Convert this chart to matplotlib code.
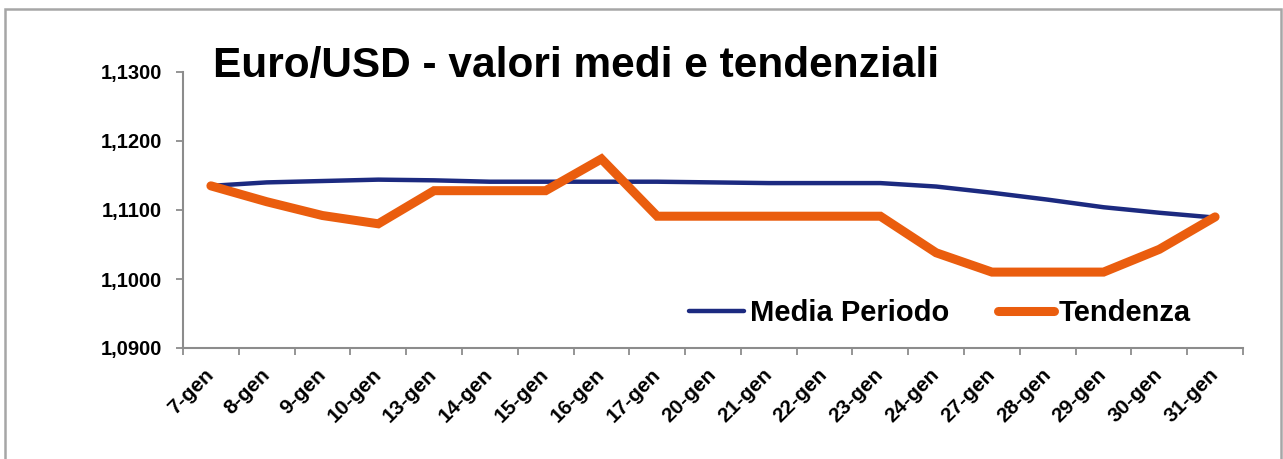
import matplotlib
matplotlib.use("Agg")
import matplotlib.pyplot as plt
from matplotlib.patches import Rectangle
from matplotlib.ticker import FixedLocator, FuncFormatter

plt.rcParams['font.family'] = ['Liberation Sans', 'DejaVu Sans']
plt.rcParams['font.weight'] = 'bold'

# data
dates = ["7-gen", "8-gen", "9-gen", "10-gen", "13-gen", "14-gen", "15-gen",
         "16-gen", "17-gen", "20-gen", "21-gen", "22-gen", "23-gen", "24-gen",
         "27-gen", "28-gen", "29-gen", "30-gen", "31-gen"]
media_periodo = [1.1135, 1.1140, 1.1142, 1.1144, 1.1143, 1.1141, 1.1141,
                 1.1141, 1.1141, 1.1140, 1.1139, 1.1139, 1.1139, 1.1134,
                 1.1125, 1.1115, 1.1104, 1.1096, 1.1089]
tendenza = [1.1135, 1.1112, 1.1092, 1.1080, 1.1128, 1.1128, 1.1128,
            1.1174, 1.1091, 1.1091, 1.1091, 1.1091, 1.1091, 1.1038,
            1.1010, 1.1010, 1.1010, 1.1043, 1.1090]
y_ticks = [1.09, 1.10, 1.11, 1.12, 1.13]

W, H = 1283, 459
fig = plt.figure(figsize=(W / 100, H / 100), dpi=100)
ax = fig.add_axes([183 / W, 1 - 348 / H, (1243 - 183) / W, (348 - 72) / H])

x = list(range(len(dates)))
ax.plot(x, media_periodo, color='#1C2A80', lw=3.2, label='Media Periodo',
        solid_capstyle='round', solid_joinstyle='round')
ax.plot(x, tendenza, color='#EA5D0E', lw=6.5, label='Tendenza',
        solid_capstyle='round', solid_joinstyle='miter')

ax.set_xlim(-0.5, len(dates) - 0.5)
ax.set_ylim(1.09, 1.13)
ax.set_yticks(y_ticks)
ax.yaxis.set_major_formatter(FuncFormatter(lambda v, p: f"{v:.4f}".replace('.', ',')))

ax.set_xticks(x)
ax.set_xticklabels(dates, rotation=45, ha='right', va='center',
                   rotation_mode='anchor', fontsize=15, fontweight='bold')
ax.xaxis.set_minor_locator(FixedLocator([i - 0.5 for i in range(len(dates) + 1)]))
ax.tick_params(axis='x', which='major', length=0, pad=17)
ax.tick_params(axis='x', which='minor', length=5, width=1.3, color='#8C8C8C', direction='out')
ax.tick_params(axis='y', length=5, width=1.3, color='#8C8C8C', direction='out',
               labelsize=14.5, pad=10)
for lbl in ax.get_yticklabels():
    lbl.set_fontweight('bold')

for s in ('top', 'right'):
    ax.spines[s].set_visible(False)
for s in ('left', 'bottom'):
    ax.spines[s].set_color('#8C8C8C')
    ax.spines[s].set_linewidth(1.5)

fig.text(213 / W, 1 - 77 / H, "Euro/USD - valori medi e tendenziali",
         fontsize=30.5, fontweight='bold', va='baseline', ha='left')

leg = ax.legend(loc='center', bbox_to_anchor=(940 / W, 1 - 313 / H),
                bbox_transform=fig.transFigure, ncol=2, frameon=False,
                fontsize=21, handlelength=1.9, handletextpad=0.18,
                columnspacing=1.7, borderpad=0, borderaxespad=0)
for t in leg.get_texts():
    t.set_fontweight('bold')

fig.patches.append(Rectangle((5 / W, -0.1), (1281 - 5) / W, 1.1 - 9 / H,
                             transform=fig.transFigure, fill=False,
                             edgecolor='#A6A6A6', lw=1.8))

fig.savefig('out.png', dpi=100)
